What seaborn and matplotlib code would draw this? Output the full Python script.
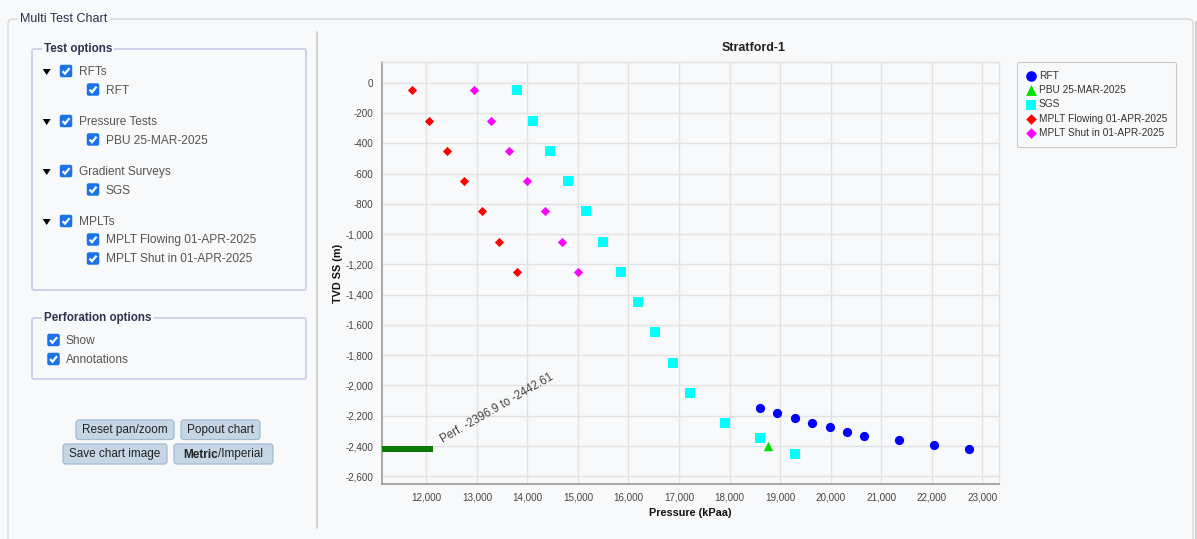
import numpy as np
import pandas as pd
import seaborn as sns
import matplotlib.pyplot as plt
from matplotlib.patches import FancyBboxPatch, Polygon
from matplotlib.ticker import FuncFormatter, MultipleLocator

# ---- chart data ----
rft_pressure = [18600, 18940, 19290, 19630, 19990, 20320, 20650, 21350, 22040, 22730]
rft_tvd = [-2150, -2185, -2215, -2245, -2275, -2305, -2335, -2360, -2395, -2420]

pbu_pressure = [18760]
pbu_tvd = [-2397]

sgs_pressure = [13790, 14120, 14450, 14810, 15150, 15500, 15850,
                16190, 16520, 16880, 17210, 17910, 18600, 19290]
sgs_tvd = [-50, -250, -450, -650, -850, -1050, -1250,
           -1450, -1650, -1850, -2050, -2250, -2350, -2450]

flowing_pressure = [11720, 12050, 12400, 12740, 13100, 13430, 13790]
flowing_tvd = [-50, -250, -450, -650, -850, -1050, -1250]

shutin_pressure = [12950, 13290, 13640, 13990, 14340, 14680, 15010]
shutin_tvd = [-50, -250, -450, -650, -850, -1050, -1250]

perf_top = -2396.9
perf_bottom = -2442.61

series_names = ['RFT', 'PBU 25-MAR-2025', 'SGS',
                'MPLT Flowing 01-APR-2025', 'MPLT Shut in 01-APR-2025']

# ---- left panel contents ----
groups = ['RFTs', 'Pressure Tests', 'Gradient Surveys', 'MPLTs']
group_children = [['RFT'], ['PBU 25-MAR-2025'], ['SGS'],
                  ['MPLT Flowing 01-APR-2025', 'MPLT Shut in 01-APR-2025']]
perf_options = ['Show', 'Annotations']
buttons_row1 = ['Reset pan/zoom', 'Popout chart']
buttons_row2 = ['Save chart image']

W, H = 1197, 539
BG = '#f8f9fb'

sns.set_theme(style='whitegrid')
plt.rcParams['font.family'] = ['Liberation Sans', 'DejaVu Sans']

fig = plt.figure(figsize=(W / 100, H / 100), dpi=100, facecolor=BG)

# overlay axes in pixel coordinates for the page widgets
ui = fig.add_axes([0, 0, 1, 1], zorder=0)
ui.set_xlim(0, W)
ui.set_ylim(H, 0)
ui.set_axis_off()
ui.patch.set_visible(False)


def rbox(x0, y0, x1, y1, fc='none', ec='#cccccc', lw=1.0, r=4):
    p = FancyBboxPatch((x0, y0), x1 - x0, y1 - y0,
                       boxstyle=f'round,pad=0,rounding_size={r}',
                       fc=fc, ec=ec, lw=lw)
    ui.add_patch(p)
    return p


def checkbox(cx, cy):
    s = 12.5
    x, y = cx - s / 2, cy - s / 2
    rbox(x, y, x + s, y + s, fc='#1a73e8', ec='none', r=2)
    ui.plot([x + 2.8, x + 5.2, x + 9.8], [y + 6.4, y + 8.9, y + 3.4],
            color='white', lw=1.6, solid_capstyle='butt', solid_joinstyle='miter')


def legend_title(x, y, s, bold=True, color='#2f3352', size=8.4):
    ui.text(x, y, s, fontsize=size, color=color,
            fontweight='bold' if bold else 'normal', va='center', ha='left',
            bbox=dict(fc=BG, ec='none', pad=1.5))


# outer fieldset
rbox(8, 19, 1193, 600, ec='#d0d0d0', lw=0.8, r=5)
ui.plot([1195.5, 1195.5], [22, H], color='#d2d2d2', lw=2.2)
legend_title(20, 19, 'Multi Test Chart', bold=False, color='#2a2d4a', size=9.0)

# vertical divider
ui.plot([317, 317], [32, 528], color='#d0d0d0', lw=1.3)

# test options fieldset
rbox(32, 49, 306, 290, ec='#d0d0ec', lw=1.4, r=2)
legend_title(44, 49, 'Test options')

opt_color = '#555555'
y = 72
for g, kids in zip(groups, group_children):
    ui.add_patch(Polygon([[42.7, y - 3], [50.7, y - 3], [46.7, y + 3]],
                         closed=True, fc='black', ec='none'))
    checkbox(66, y - 1)
    ui.text(79, y, g, fontsize=8.6, color=opt_color, va='center')
    cy = y + 18.5
    for k in kids:
        checkbox(93, cy - 1)
        ui.text(106, cy, k, fontsize=8.6, color=opt_color, va='center')
        cy += 19
    y += 50

# perforation options fieldset
rbox(32, 318, 306, 379, ec='#d0d0ec', lw=1.4, r=2)
legend_title(44, 318, 'Perforation options')
py = 341
for o in perf_options:
    checkbox(53.5, py - 1)
    ui.text(66, py, o, fontsize=8.6, color=opt_color, va='center')
    py += 19

# buttons
btn_fc, btn_ec = '#c6d6e5', '#a3bbd0'
for (x0, x1), label in zip([(76, 174), (181, 260)], buttons_row1):
    rbox(x0, 420, x1, 439.5, fc=btn_fc, ec=btn_ec, lw=0.9, r=3)
    ui.text((x0 + x1) / 2, 430, label, fontsize=8.5, color='#222222',
            ha='center', va='center')
rbox(63, 444, 167, 464, fc=btn_fc, ec=btn_ec, lw=0.9, r=3)
ui.text(115, 454.5, buttons_row2[0], fontsize=8.5, color='#222222',
        ha='center', va='center')
rbox(174, 444, 273, 464, fc=btn_fc, ec=btn_ec, lw=0.9, r=3)
t1 = ui.text(0, 454.5, 'Metric', fontsize=8.5, color='#222222',
             fontweight='bold', ha='left', va='center')
t2 = ui.text(0, 454.5, '/Imperial', fontsize=8.5, color='#222222',
             ha='left', va='center')
renderer = fig.canvas.get_renderer()
w1 = t1.get_window_extent(renderer).width
w2 = t2.get_window_extent(renderer).width
start = (174 + 273) / 2 - (w1 + w2) / 2
t1.set_x(start)
t2.set_x(start + w1)

# ---- chart ----
ax = fig.add_axes([382 / W, 1 - 484 / H, 617 / W, 422 / H], zorder=1)
ax.set_facecolor(BG)

frames = [
    pd.DataFrame({'pressure': rft_pressure, 'tvd': rft_tvd}),
    pd.DataFrame({'pressure': pbu_pressure, 'tvd': pbu_tvd}),
    pd.DataFrame({'pressure': sgs_pressure, 'tvd': sgs_tvd}),
    pd.DataFrame({'pressure': flowing_pressure, 'tvd': flowing_tvd}),
    pd.DataFrame({'pressure': shutin_pressure, 'tvd': shutin_tvd}),
]
colors = ['#0000ff', '#00e000', '#00ffff', '#ff0000', '#ff00ff']
markers = ['o', '^', 's', 'D', 'D']
sizes = [44, 46, 42, 22, 22]

for df, name, c, m, s in zip(frames, series_names, colors, markers, sizes):
    sns.scatterplot(data=df, x='pressure', y='tvd', ax=ax, color=c, marker=m,
                    s=s, linewidth=0, label=name, legend=False)

# perforation bar on the left edge
ax.axhspan(perf_bottom, perf_top, xmin=0, xmax=0.082, color='#0b7a0b', lw=0, zorder=3)
ax.annotate(f'Perf. {perf_top} to {perf_bottom}', xy=(0.082, perf_top),
            xycoords=('axes fraction', 'data'), xytext=(7.5, 1.5),
            textcoords='offset points', rotation=30, rotation_mode='anchor',
            ha='left', va='baseline', fontsize=8.3, color='#444444')

ax.set_xlim(11124, 23330)
ax.set_ylim(-2651, 137)
ax.xaxis.set_major_locator(MultipleLocator(1000))
ax.yaxis.set_major_locator(MultipleLocator(200))
fmt = FuncFormatter(lambda v, p: f'{v:,.0f}')
ax.xaxis.set_major_formatter(fmt)
ax.yaxis.set_major_formatter(fmt)
ax.tick_params(axis='both', length=0, labelsize=7.1, labelcolor='#444444')
ax.tick_params(axis='y', pad=6.5)
ax.tick_params(axis='x', pad=6)
ax.grid(True, color='#e2e2e2', lw=1.0)
ax.set_axisbelow(True)
for side in ['top', 'right']:
    ax.spines[side].set_color('#e2e2e2')
    ax.spines[side].set_linewidth(1.0)
for side in ['left', 'bottom']:
    ax.spines[side].set_color('#9a9a9a')
    ax.spines[side].set_linewidth(1.2)

ax.set_xlabel('Pressure (kPaa)', fontsize=7.8, fontweight='bold', color='#111111')
ax.set_ylabel('TVD SS (m)', fontsize=7.8, fontweight='bold', color='#111111')
ax.xaxis.set_label_coords(0.5, -0.069)
ax.xaxis.label.set_va('center')
ax.yaxis.set_label_coords(-0.071, 0.5)
ax.yaxis.label.set_va('center')

fig.text(754 / W, 1 - 48 / H, 'Stratford-1', fontsize=9, fontweight='bold',
         color='#222222', ha='center', va='center')

leg = ax.legend(loc='upper left', bbox_to_anchor=(1016.7 / W, 1 - 61.7 / H),
                bbox_transform=fig.transFigure, borderaxespad=0, frameon=True,
                fancybox=True, fontsize=7.3, labelspacing=0.42,
                handletextpad=0.3, handlelength=1.0, borderpad=0.9,
                markerscale=1.15)
leg.get_frame().set_edgecolor('#c8c8c8')
leg.get_frame().set_facecolor(BG)
leg.get_frame().set_alpha(1)
leg.get_frame().set_linewidth(0.8)
for t in leg.get_texts():
    t.set_color('#333333')

fig.savefig('out.png', dpi=100, facecolor=BG)
